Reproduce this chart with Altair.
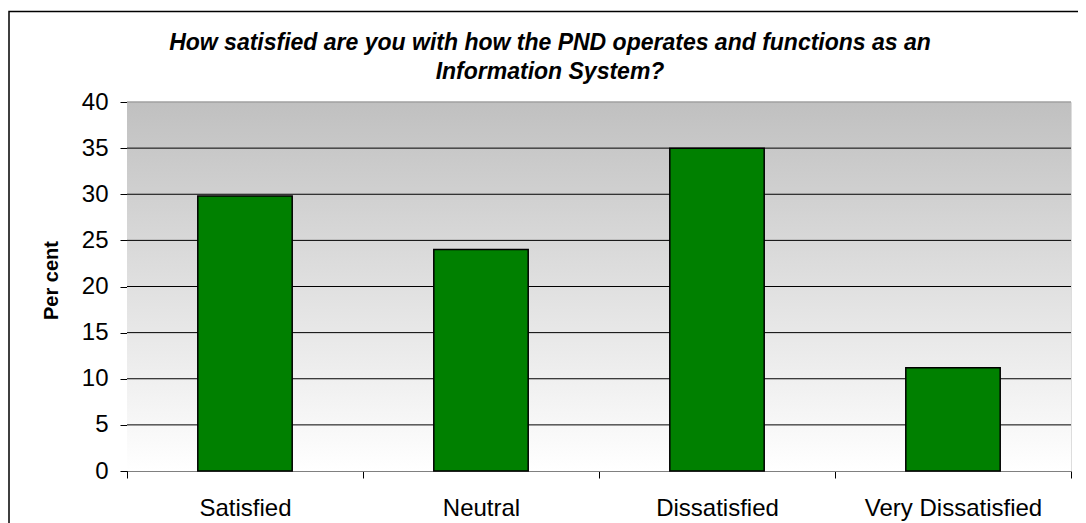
import altair as alt
import pandas as pd

categories = ["Satisfied", "Neutral", "Dissatisfied", "Very Dissatisfied"]
values = [29.8, 24.0, 35.0, 11.2]
grid_values = [5, 10, 15, 20, 25, 30, 35]
top_value = [40]
y_ticks = [0, 5, 10, 15, 20, 25, 30, 35, 40]
title_lines = ["How satisfied are you with how the PND operates and functions as an",
               "Information System?"]

W, H = 944, 369
FONT = "Liberation Sans"

bars_df = pd.DataFrame({"category": categories, "value": values})
grid_df = pd.DataFrame({"value": grid_values})
top_df = pd.DataFrame({"value": top_value})

yscale = alt.Scale(domain=[0, 40], nice=False, zero=True)
yaxis = alt.Axis(values=y_ticks, title="Per cent", grid=False, tickSize=7, tickColor="black",
                 domainColor="black", labelFont=FONT, labelFontSize=24, labelColor="black",
                 labelPadding=12, titleFont=FONT, titleFontSize=20, titleFontWeight="bold",
                 titleColor="black", titlePadding=20, titleY=178)
xscale = alt.Scale(domain=categories, paddingInner=0, paddingOuter=0)
xaxis = alt.Axis(title=None, labelAngle=0, tickBand="extent", tickSize=7, tickColor="black",
                 domainColor="#808080", labelFont=FONT, labelFontSize=24, labelColor="black",
                 labelPadding=18, grid=False)

background = alt.Chart(pd.DataFrame({"k": [0]})).mark_rect(
    fill=alt.Gradient(gradient="linear", x1=0, x2=0, y1=0, y2=1,
                      stops=[alt.GradientStop(offset=0, color="#c0c0c0"),
                             alt.GradientStop(offset=0.5, color="#e0e0e0"),
                             alt.GradientStop(offset=1, color="#ffffff")])
).encode(x=alt.value(0), x2=alt.value(W), y=alt.value(0), y2=alt.value(H))

grid = alt.Chart(grid_df).mark_rule(color="black", strokeWidth=1).encode(
    y=alt.Y("value:Q", scale=yscale, axis=yaxis))

top = alt.Chart(top_df).mark_rule(color="#a0a0a0", strokeWidth=1.5).encode(
    y=alt.Y("value:Q", scale=yscale, axis=yaxis))

bars = alt.Chart(bars_df).mark_bar(
    fill="#008000", stroke="black", strokeWidth=1.5, width=alt.RelativeBandSize(0.4)
).encode(
    x=alt.X("category:N", sort=categories, scale=xscale, axis=xaxis),
    y=alt.Y("value:Q", scale=yscale, axis=yaxis),
)

title = alt.Chart(pd.DataFrame({"k": [0]})).mark_text(
    font=FONT, fontSize=23, fontStyle="italic", fontWeight="bold", color="black",
    align="center", baseline="alphabetic", lineHeight=29
).encode(x=alt.value(423), y=alt.value(-52), text=alt.value(title_lines))

border = alt.Chart(pd.DataFrame({"k": [0]})).mark_rect(
    filled=False, stroke="black", strokeWidth=1.5
).encode(x=alt.value(-118), x2=alt.value(1200), y=alt.value(-90.5), y2=alt.value(700))

chart = alt.layer(background, grid, top, bars, title, border).properties(
    width=W, height=H,
    autosize=alt.AutoSizeParams(type="none"),
    padding={"left": 119, "top": 94, "right": 7, "bottom": 52},
).configure_view(stroke=None).configure(background="white")

chart.save("out.html", embed_options={"renderer": "svg", "actions": False})
